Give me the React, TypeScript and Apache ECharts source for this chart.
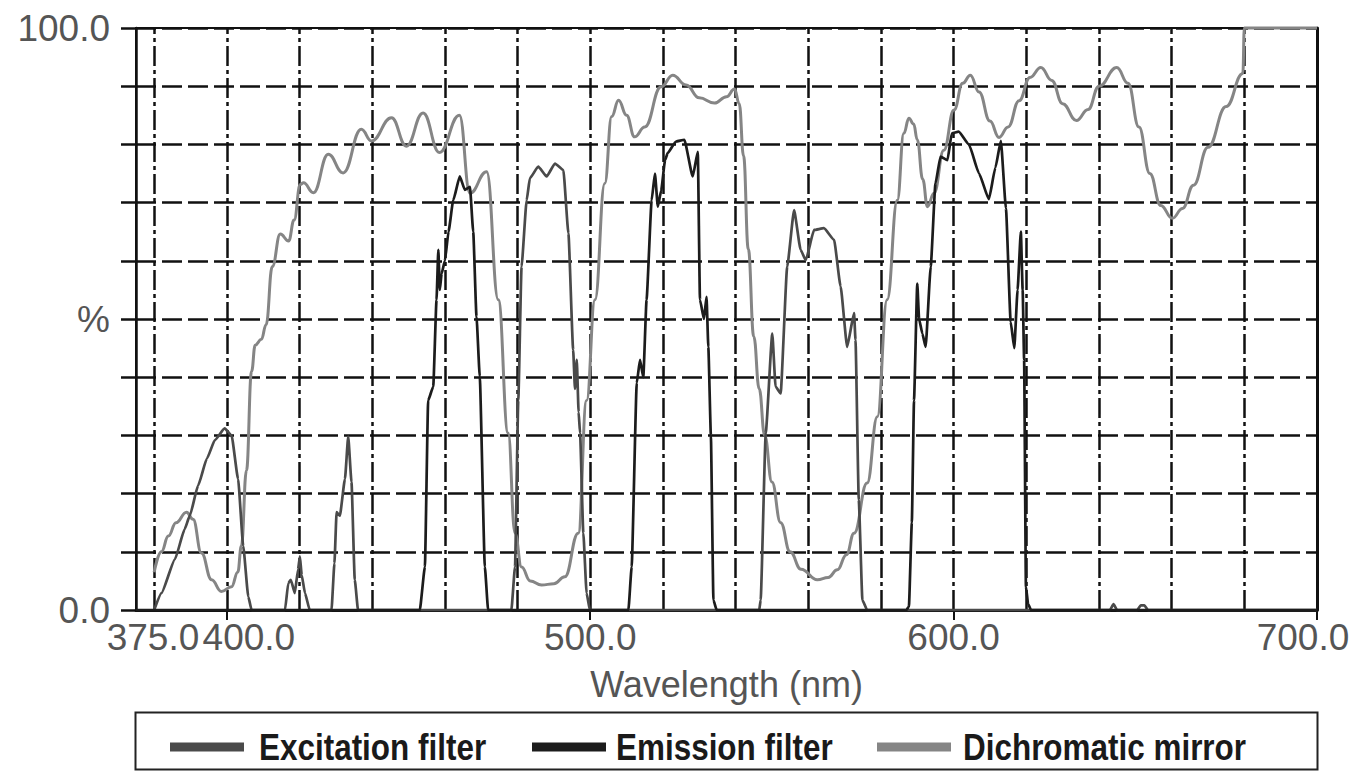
import React, { useEffect, useRef } from 'react';
import * as echarts from 'echarts';

// ---- axis ticks / labels ----
const xMin = 375;
const xMax = 700;
const xLabelValues = [375, 400, 500, 600, 700];
const xTickValues = [400, 500, 600, 700];
const xGridValues = [380, 400, 420, 440, 460, 480, 500, 520, 540, 560, 580, 600, 620, 640, 660, 680, 700];
const yLabelValues = [0, 50, 100];
const yLabelTexts = ['0.0', '%', '100.0'];
const seriesNames = ['Excitation filter', 'Emission filter', 'Dichromatic mirror'];
const xAxisTitle = 'Wavelength (nm)';

// ---- series values: [wavelength nm, transmission %] ----
const excitation: [number, number][] = [
  [380, 0], [382, 2.9], [385.7, 8.7], [388.4, 13.9], [389.8, 16.2], [392.1, 21.4], [394.5, 26], [396.7, 29.2],
  [399.4, 31.2], [401.3, 30], [403.1, 22.5], [404.5, 11], [405.9, 2.3], [406.8, 0],
  [416, 0], [416.9, 4.6], [417.6, 5.2], [418.7, 2.9], [419.6, 7], [420.1, 9.2], [420.6, 6], [421.5, 2.9], [422.8, 0],
  [428.8, 0], [429.6, 8], [430.2, 16.8], [431.1, 16.2], [432.5, 22.5], [433.4, 29.8], [434.3, 22], [435.2, 5.2], [436.1, 0],
  [478.3, 0], [479.3, 7.4], [480.2, 36], [481.1, 59], [482.5, 70.4], [483.4, 74.2], [485.7, 76.2], [488, 74.5],
  [490.3, 76.7], [492.6, 75.6], [494, 64.7], [495.3, 44.7], [495.8, 38], [496.3, 43], [496.8, 34], [497.2, 30.4],
  [498.1, 13.2], [499, 2.9], [499.9, 0],
  [546.5, 0], [546.9, 1.7], [548.3, 30.4], [550.1, 47.5], [551, 38.4], [552.4, 37.2], [554.2, 59], [556.1, 68.7],
  [557.9, 61.9], [559.3, 60.1], [561.6, 65.3], [564.3, 65.6], [567.1, 63.6], [568.9, 55.6], [570.7, 45.2],
  [572.6, 51], [573, 46.4], [573.9, 18.9], [574.9, 1.7], [576.2, 0],
  [643, 0], [644, 1], [645, 0], [650.5, 0], [651.5, 0.8], [652.5, 0.8], [653.5, 0], [700, 0],
];

const emission: [number, number][] = [
  [375, 0], [453.1, 0], [454.5, 7.4], [455.4, 36], [456.8, 38.4], [457.7, 53.3], [458.2, 61.9], [458.6, 55],
  [459.1, 57.8], [460, 60], [461, 65], [462.3, 70.4], [464.1, 74.5], [465.5, 72.2], [466.9, 72.7], [467.8, 65],
  [468.7, 50.4], [469.6, 40.1], [471, 7.4], [471.9, 0],
  [510.5, 0], [511.4, 7.4], [512.8, 39], [513.7, 43], [514.6, 40], [515.5, 53.3], [516.9, 70.4], [517.8, 75],
  [518.6, 69.3], [519.5, 72], [520.6, 77.3], [521.3, 78.5], [523.6, 80.5], [525.9, 80.8], [528.2, 74.5],
  [529.6, 78.7], [530.2, 53.3], [531.3, 50], [532, 53.8], [532.5, 45.2], [533.2, 30], [533.9, 1.7], [534.8, 0],
  [587, 0], [587.7, 0.6], [588.5, 15], [589.1, 36], [590, 56.1], [590.5, 50], [591.4, 47.5], [592.3, 45.2],
  [593.7, 59], [595, 73.3], [596.4, 77.9], [598.3, 77.3], [599.5, 81.9], [601.4, 82.2], [604.2, 80], [607, 75],
  [609.7, 70.6], [611.5, 76], [613, 80.6], [614.4, 69], [615.7, 49.5], [616.7, 45], [617.6, 55], [618.5, 65],
  [619, 55], [619.4, 43], [619.9, 4], [620.5, 1], [621.3, 0], [700, 0],
];

const mirror: [number, number][] = [
  [380, 6.5], [382, 10], [383.9, 12.7], [386, 15], [388.9, 16.8], [390.7, 15.6], [393, 9.8], [395.8, 5.2],
  [398.5, 3.2], [401.3, 4], [403, 6.5], [404, 11], [405.4, 24], [406.8, 41], [407.8, 45.5], [409.5, 46.5],
  [410.8, 49], [412.5, 59], [414.7, 64.6], [417, 63.4], [418.5, 67], [420.2, 73.1], [421.1, 73.4], [423.8, 71.7],
  [427.9, 78.3], [432, 75.1], [437, 82.6], [439.8, 80.6], [445.3, 84.6], [449.4, 79.7], [454, 85.4],
  [458.5, 78.6], [464, 85], [466.9, 71.6], [471.5, 75.3], [474.7, 53.3], [477.4, 30.4], [479.3, 13.2],
  [481.1, 7.4], [483.5, 5], [486.6, 4.3], [490, 4.5], [493, 5.7], [496.7, 13.2], [499, 36], [501.3, 53.3],
  [504, 73.3], [505.9, 84.8], [507.8, 87.6], [510, 85], [512.2, 81.3], [515, 83], [519.5, 89.9], [522.7, 91.9],
  [526.4, 90.2], [530, 88], [534.2, 87.1], [537.5, 88.2], [539.7, 89.5], [541, 87], [542.2, 78], [543.5, 62],
  [545, 47], [546.5, 38], [548, 30], [550, 22], [552.4, 15], [555, 10], [558, 7], [562.5, 5.2], [565.5, 5.6],
  [568, 6.9], [570.5, 9.5], [572.6, 13.2], [576.2, 21.8], [579, 33.2], [581.7, 53.3], [584.5, 70.4],
  [586.3, 81.9], [587.7, 84.5], [589, 83.5], [590, 80.8], [591.5, 74], [592.8, 69.3], [594.6, 71.6],
  [597.3, 79], [600.1, 85.9], [602.5, 90.5], [604.6, 91.9], [607, 89], [610, 84], [612.5, 81.2], [615, 83],
  [618, 87.5], [621, 91.5], [624, 93.2], [627, 91], [630, 87], [633.8, 84.1], [637, 86], [640, 90],
  [644.9, 93.2], [648, 90.5], [651, 83], [654, 75], [657, 69.5], [660.2, 67.3], [663, 69], [666, 73],
  [670, 79.5], [675, 86.5], [679.6, 92.2], [680, 100], [700, 100],
];

const colors = ['#4a4a4a', '#1c1c1c', '#858585'];

const axisFont = "'Liberation Sans', Arial, sans-serif";

export default function App() {
  const ref = useRef<HTMLDivElement>(null);

  useEffect(() => {
    if (!ref.current) return;
    const chart = echarts.init(ref.current, null, { renderer: 'svg' });
    const labelBase = { fontFamily: axisFont, fontSize: 37, color: '#555' };
    const seriesData = [excitation, emission, mirror];

    // legend drawn as graphic (condensed bold text)
    const legendIconX = [170, 532, 877];
    const legendTextX = [259, 616, 963];
    const legendY = 747;
    const legendItems: any[] = [];
    seriesNames.forEach((name, i) => {
      legendItems.push({
        type: 'rect',
        shape: { x: legendIconX[i], y: legendY - 4.5, width: 74, height: 9 },
        style: { fill: colors[i] },
      });
      legendItems.push({
        type: 'text',
        x: legendTextX[i],
        y: legendY,
        scaleX: 0.85,
        style: {
          text: name,
          font: "bold 37px 'Liberation Sans', Arial, sans-serif",
          fill: '#1a1a1a',
          align: 'left',
          verticalAlign: 'middle',
        },
      });
    });

    chart.setOption({
      animation: false,
      backgroundColor: '#ffffff',
      grid: {
        left: 136,
        top: 28,
        width: 1181,
        height: 582,
        show: true,
        borderColor: '#111',
        borderWidth: 2,
        backgroundColor: 'transparent',
      },
      legend: { show: false },
      graphic: [
        {
          type: 'rect',
          shape: { x: 135.5, y: 712.5, width: 1182, height: 57 },
          style: { fill: 'none', stroke: '#222', lineWidth: 2 },
        },
        ...legendItems,
      ],
      xAxis: {
        type: 'value',
        min: xMin,
        max: xMax,
        interval: 5,
        axisLine: { show: true, onZero: false, lineStyle: { color: '#111', width: 3 } },
        axisTick: {
          show: true,
          customValues: xTickValues,
          length: 10,
          lineStyle: { color: '#111', width: 2 },
        },
        axisLabel: {
          show: true,
          customValues: xLabelValues,
          showMinLabel: true,
          showMaxLabel: true,
          margin: 9,
          ...labelBase,
          formatter: (v: number) => {
            if (xLabelValues.indexOf(v) < 0) return '';
            const t = v.toFixed(1);
            if (v === 375) return '{a|' + t + '}';
            if (v === 400) return '{b|' + t + '}';
            if (v === 700) return '{c|' + t + '}';
            return t;
          },
          rich: {
            a: { ...labelBase, padding: [0, 0, 0, 34] },
            b: { ...labelBase, padding: [0, 0, 0, 44] },
            c: { ...labelBase, padding: [0, 28, 0, 0] },
          },
        },
        splitLine: { show: false },
        name: xAxisTitle,
        nameLocation: 'middle',
        nameGap: 56,
        nameTextStyle: { ...labelBase, fontSize: 36 },
      },
      yAxis: [
        {
          type: 'value',
          min: 0,
          max: 100,
          interval: 10,
          axisLine: { show: true, lineStyle: { color: '#111', width: 2.5 } },
          axisTick: { show: true, length: 15, lineStyle: { color: '#111', width: 2.5 } },
          axisLabel: {
            show: true,
            showMinLabel: true,
            showMaxLabel: true,
            margin: 26,
            ...labelBase,
            padding: [0, 0, 9, 0],
            formatter: (v: number) => {
              const i = yLabelValues.indexOf(v);
              return i >= 0 ? yLabelTexts[i] : '';
            },
          },
          splitLine: {
            show: true,
            lineStyle: { color: '#111', width: 2.5, type: [20, 6] },
          },
        },
        {
          type: 'value',
          min: 0,
          max: 100,
          position: 'right',
          axisLine: { show: true, lineStyle: { color: '#111', width: 3 } },
          axisTick: { show: false },
          axisLabel: { show: false },
          splitLine: { show: false },
        },
      ],
      series: seriesNames.map((name, i) => ({
        name,
        type: 'line',
        data: seriesData[i],
        yAxisIndex: 0,
        showSymbol: false,
        symbol: 'none',
        clip: false,
        smooth: i === 2 ? 0.45 : 0.15,
        smoothMonotone: 'x',
        lineStyle: { color: colors[i], width: i === 2 ? 3 : 2.7 },
        itemStyle: { color: colors[i] },
        z: i === 2 ? 3 : 4,
        markLine:
          i === 0
            ? {
                silent: true,
                z: 1,
                symbol: ['none', 'none'],
                label: { show: false },
                emphasis: { disabled: true },
                lineStyle: { color: '#111', width: 2.5, type: [20, 4, 4, 4] },
                data: xGridValues.map((v) => ({ xAxis: v })),
              }
            : undefined,
      })),
    });

    return () => chart.dispose();
  }, []);

  return (
    <div
      ref={ref}
      style={{ position: 'fixed', left: 0, top: 0, width: 1353, height: 771, background: '#fff' }}
    />
  );
}
